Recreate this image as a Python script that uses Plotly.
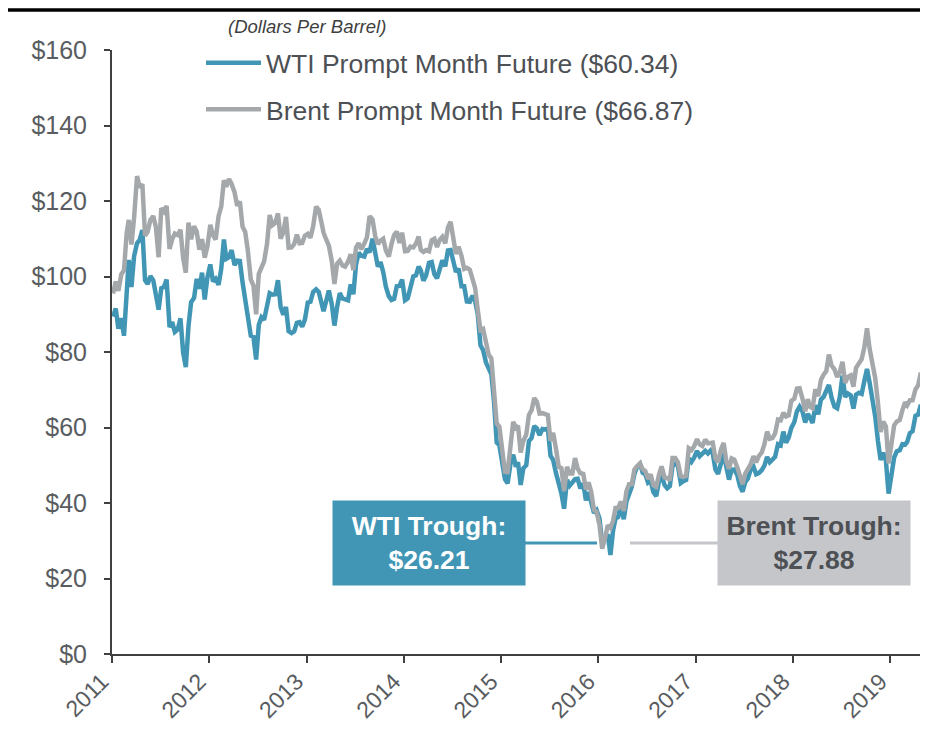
import plotly.graph_objects as go
import pandas as pd

# ---------------- data (3 readings per month: 5th, 15th, 25th) ----------------
start_month = "2011-01"
end_month = "2019-05"
obs_days = [5, 15, 25]

wti_2011 = [89.4, 91.5, 86.2, 89.0, 84.3, 97.9, 104.4, 97.2, 105.4, 108.8, 109.7, 112.3,
            99.0, 98.0, 100.1, 99.0, 94.8, 91.2, 96.9, 97.2, 99.2, 86.6, 87.9, 85.3,
            86.0, 88.9, 79.9, 76.0, 86.8, 93.2, 94.3, 99.4, 96.8, 101.0, 93.9, 99.7]
wti_2012 = [103.2, 98.7, 99.4, 97.8, 102.0, 109.8, 104.7, 105.1, 107.0, 103.0, 104.2, 104.1,
            98.5, 94.0, 90.7, 84.3, 84.0, 78.0, 87.2, 89.2, 88.5, 92.2, 95.6, 95.2,
            95.3, 99.0, 91.9, 89.9, 91.9, 85.5, 85.0, 85.5, 87.7, 87.9, 86.7, 88.6]
wti_2013 = [93.1, 93.3, 95.9, 96.6, 95.9, 93.1, 90.8, 93.5, 96.3, 92.7, 87.0, 91.9,
            95.6, 94.2, 94.0, 93.7, 97.9, 95.3, 103.2, 106.3, 105.5, 105.3, 107.3, 106.4,
            110.0, 106.6, 102.6, 103.8, 101.2, 97.3, 94.8, 93.8, 94.1, 97.4, 97.5, 99.2]
wti_2014 = [93.7, 94.2, 97.3, 100.0, 100.3, 102.6, 101.6, 98.9, 100.3, 103.6, 103.8, 100.6,
            99.5, 102.5, 104.3, 102.7, 106.9, 107.0, 104.1, 101.2, 102.1, 97.4, 97.4, 93.4,
            93.3, 94.9, 93.5, 90.0, 81.8, 80.5, 77.2, 75.6, 74.1, 66.8, 56.0, 55.3]
wti_2015 = [50.0, 46.3, 45.2, 50.5, 52.8, 49.6, 50.8, 44.8, 49.2, 50.0, 56.4, 57.2,
            60.4, 59.7, 58.0, 59.6, 59.5, 59.7, 52.5, 51.4, 48.1, 45.2, 42.5, 38.5,
            46.1, 44.6, 45.7, 46.3, 46.4, 43.9, 45.2, 40.7, 42.9, 39.9, 37.4, 38.1]
wti_2016 = [35.9, 29.4, 30.3, 31.7, 26.21, 32.8, 35.9, 36.3, 39.5, 35.7, 40.4, 42.6,
            44.3, 47.7, 49.6, 50.4, 48.0, 47.6, 45.4, 45.9, 42.9, 41.8, 45.7, 47.3,
            44.8, 43.9, 44.5, 49.8, 50.4, 49.9, 45.3, 45.8, 46.1, 51.8, 50.9, 52.0]
wti_2017 = [53.8, 52.4, 53.2, 53.8, 53.1, 53.9, 53.2, 48.9, 47.7, 51.2, 53.1, 49.6,
            46.2, 48.8, 48.9, 47.4, 44.5, 43.0, 45.5, 46.5, 48.8, 49.6, 47.6, 47.9,
            48.7, 49.9, 52.2, 50.8, 51.5, 52.2, 55.6, 55.3, 58.9, 56.0, 57.3, 59.9]
wti_2018 = [61.4, 64.3, 65.5, 64.2, 61.3, 63.6, 62.6, 61.2, 65.9, 63.5, 67.4, 68.1,
            69.7, 71.3, 67.9, 65.5, 65.1, 68.1, 73.8, 68.1, 69.0, 68.5, 65.0, 68.7,
            69.2, 68.9, 72.3, 75.5, 71.8, 67.6, 62.9, 56.5, 51.4, 53.3, 51.2, 42.5]
wti_2019 = [48.0, 52.1, 53.7, 54.0, 55.6, 55.5, 56.2, 58.5, 59.0, 63.1, 63.4, 66.0,
            61.9, 62.0, 58.6]

brent_2011 = [95.5, 98.7, 96.2, 100.6, 101.6, 111.4, 115.0, 108.5, 115.6, 126.6, 123.5, 124.5,
              110.8, 111.9, 115.0, 116.0, 113.0, 105.1, 118.1, 117.2, 118.7, 107.3, 109.9, 111.4,
              111.0, 112.4, 104.9, 101.0, 114.3, 109.9, 113.3, 111.9, 107.1, 109.9, 105.0, 107.9]
brent_2012 = [113.7, 111.0, 109.8, 116.0, 118.5, 125.5, 123.8, 125.8, 124.5, 122.3, 118.7, 119.9,
              113.2, 111.8, 106.8, 99.2, 97.6, 90.0, 100.7, 102.4, 104.0, 108.7, 116.3, 113.6,
              114.2, 116.7, 110.0, 111.7, 115.8, 107.6, 107.7, 108.6, 111.1, 108.8, 108.9, 110.8]
brent_2013 = [111.3, 110.3, 113.3, 118.5, 117.7, 114.4, 111.6, 109.8, 108.2, 104.1, 98.0, 103.4,
              104.2, 102.9, 102.6, 103.9, 105.9, 101.7, 107.7, 108.8, 107.2, 108.7, 110.4, 116.0,
              115.1, 110.7, 108.6, 109.5, 110.0, 106.9, 105.3, 108.5, 111.0, 111.9, 108.9, 111.6]
brent_2014 = [106.7, 106.8, 107.9, 107.7, 108.7, 110.6, 107.1, 106.5, 107.0, 106.7, 109.6, 110.0,
              107.8, 109.7, 110.5, 108.8, 113.0, 114.5, 110.2, 106.0, 107.9, 105.4, 102.0, 102.3,
              101.8, 99.0, 97.0, 91.1, 85.8, 86.1, 82.9, 79.3, 78.3, 69.1, 61.1, 60.2]
brent_2015 = [53.1, 48.3, 48.2, 56.6, 61.5, 60.0, 60.5, 53.4, 56.4, 58.1, 63.3, 64.6,
              67.8, 66.8, 63.7, 63.8, 63.6, 63.3, 56.5, 58.6, 54.6, 49.6, 49.2, 43.2,
              49.6, 47.8, 47.8, 51.9, 49.1, 47.9, 47.7, 43.6, 45.5, 42.9, 38.2, 37.6]
brent_2016 = [34.2, 27.88, 30.5, 34.1, 33.4, 35.3, 38.7, 38.7, 40.4, 37.9, 43.1, 45.0,
              45.0, 48.9, 49.7, 50.5, 48.9, 48.4, 46.4, 47.6, 44.7, 44.3, 47.4, 49.7,
              46.8, 46.6, 46.0, 51.9, 51.9, 50.8, 47.1, 46.9, 47.2, 54.5, 54.0, 55.0]
brent_2017 = [56.9, 55.5, 55.1, 56.8, 55.8, 56.0, 56.0, 51.8, 50.8, 54.2, 55.9, 51.1,
              49.1, 51.8, 51.5, 49.5, 47.0, 45.0, 47.8, 48.9, 50.2, 52.4, 50.8, 52.4,
              53.4, 55.6, 58.9, 57.0, 57.2, 58.4, 62.1, 61.9, 63.9, 62.9, 63.2, 67.0]
brent_2018 = [67.6, 70.3, 70.4, 67.6, 64.3, 67.5, 65.5, 65.1, 70.1, 68.3, 72.6, 74.0,
              74.9, 79.3, 76.4, 75.4, 73.4, 74.7, 77.4, 71.8, 73.4, 73.8, 70.8, 75.8,
              77.3, 78.1, 81.2, 86.3, 80.8, 76.9, 73.0, 66.6, 58.8, 61.6, 60.3, 50.5]
brent_2019 = [57.1, 60.6, 61.6, 62.0, 64.6, 66.7, 65.9, 67.2, 67.2, 70.1, 71.2, 74.5,
              71.2, 72.0, 68.7]

wti_values = (wti_2011 + wti_2012 + wti_2013 + wti_2014 + wti_2015 + wti_2016
              + wti_2017 + wti_2018 + wti_2019)
brent_values = (brent_2011 + brent_2012 + brent_2013 + brent_2014 + brent_2015
                + brent_2016 + brent_2017 + brent_2018 + brent_2019)

months = pd.period_range(start_month, end_month, freq="M")
dates = [pd.Timestamp(year=m.year, month=m.month, day=d) for m in months for d in obs_days]
dates = dates[:len(wti_values)]

wti_name = "WTI Prompt Month Future ($60.34)"
brent_name = "Brent Prompt Month Future ($66.87)"
wti_trough_label = "WTI Trough:<br>$26.21"
brent_trough_label = "Brent Trough:<br>$27.88"
subtitle = "(Dollars Per Barrel)"
y_ticks = [0, 20, 40, 60, 80, 100, 120, 140, 160]
y_tick_labels = ["$0", "$20", "$40", "$60", "$80", "$100", "$120", "$140", "$160"]
x_range = ["2011-01-01", "2019-05-22"]

# ---------------- styling ----------------
WTI_COLOR = "#4196B5"
BRENT_COLOR = "#A5A8AB"
BRENT_BOX = "#C4C6C9"
TEXT_DARK = "#4D5054"
TICK_COLOR = "#595C60"
AXIS_COLOR = "#404040"
FONT = "Liberation Sans, Arial, sans-serif"

# the page body adds an 8px offset; lay the figure out in screen pixels
OFF = 8
SCREEN_W, SCREEN_H = 928, 730
W, H = SCREEN_W - OFF, SCREEN_H - OFF
PLOT_L, PLOT_R, PLOT_T, PLOT_B = 112, 928, 50, 654   # screen px of plot area
L, T = PLOT_L - OFF, PLOT_T - OFF
R = W - (PLOT_R - OFF)
B = H - (PLOT_B - OFF)
pw, ph = PLOT_R - PLOT_L, PLOT_B - PLOT_T


def px_x(px):
    return (px - PLOT_L) / pw


def px_y(py):
    return (PLOT_B - py) / ph


fig = go.Figure()
fig.add_trace(go.Scatter(x=dates, y=wti_values, mode="lines", name=wti_name,
                         legendgroup="wti",
                         line=dict(color=WTI_COLOR, width=4.5)))
fig.add_trace(go.Scatter(x=dates, y=brent_values, mode="lines", name=brent_name,
                         legendgroup="brent",
                         line=dict(color=BRENT_COLOR, width=4.5)))

fig.update_layout(
    width=W, height=H,
    margin=dict(l=L, r=R, t=T, b=B),
    plot_bgcolor="white", paper_bgcolor="white",
    font=dict(family=FONT, color=TICK_COLOR),
    showlegend=True,
    legend=dict(x=px_x(201), y=px_y(39), xanchor="left", yanchor="top",
                font=dict(size=26.5, color=TEXT_DARK, family=FONT),
                bgcolor="rgba(0,0,0,0)", itemwidth=55, tracegroupgap=9,
                traceorder="grouped"),
    xaxis=dict(range=x_range, type="date", tick0="2011-01-01", dtick="M12",
               tickformat="%Y", tickangle=-45, showgrid=False, zeroline=False,
               showline=True, linecolor=AXIS_COLOR, linewidth=2,
               ticks="outside", ticklen=7, tickwidth=2, tickcolor=AXIS_COLOR,
               ticklabelshift=-10, ticklabelstandoff=-4,
               tickfont=dict(size=23, color=TICK_COLOR, family=FONT)),
    yaxis=dict(range=[0, 160], tickvals=y_ticks, ticktext=y_tick_labels,
               showgrid=False, zeroline=False, showline=True,
               linecolor=AXIS_COLOR, linewidth=2,
               ticks="outside", ticklen=6, tickwidth=2, tickcolor=AXIS_COLOR,
               ticklabelstandoff=12,
               tickfont=dict(size=25, color=TICK_COLOR, family=FONT)),
)

# top rule
fig.add_shape(type="line", xref="paper", yref="paper",
              x0=px_x(5), x1=px_x(928), y0=px_y(10), y1=px_y(10),
              line=dict(color="black", width=3.5))
# subtitle
fig.add_annotation(xref="paper", yref="paper", x=px_x(307), y=px_y(27),
                   text="<i>" + subtitle + "</i>", showarrow=False,
                   font=dict(size=18.5, color="#3F3F3F", family=FONT),
                   xanchor="center", yanchor="middle")

# trough connectors
fig.add_shape(type="line", xref="paper", yref="paper",
              x0=px_x(525), x1=px_x(597), y0=px_y(543), y1=px_y(543),
              line=dict(color=WTI_COLOR, width=3))
fig.add_shape(type="line", xref="paper", yref="paper",
              x0=px_x(630), x1=px_x(718), y0=px_y(543), y1=px_y(543),
              line=dict(color=BRENT_BOX, width=3))

# trough boxes
fig.add_annotation(xref="paper", yref="paper", x=px_x(429), y=px_y(543),
                   xanchor="center", yanchor="middle",
                   text="<b>" + wti_trough_label + "</b>", showarrow=False,
                   width=192, height=84, bgcolor=WTI_COLOR, borderpad=0,
                   align="center", valign="middle",
                   font=dict(size=26.5, color="white", family=FONT))
fig.add_annotation(xref="paper", yref="paper", x=px_x(814), y=px_y(543),
                   xanchor="center", yanchor="middle",
                   text="<b>" + brent_trough_label + "</b>", showarrow=False,
                   width=192, height=84, bgcolor=BRENT_BOX, borderpad=0,
                   align="center", valign="middle",
                   font=dict(size=26.5, color=TEXT_DARK, family=FONT))

fig.write_html("out.html")
